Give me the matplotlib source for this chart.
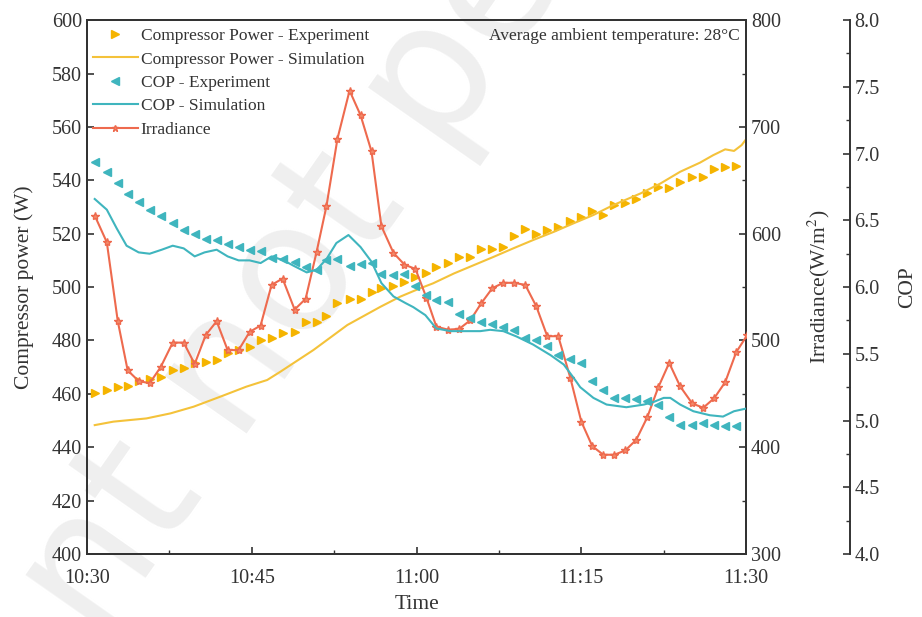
import matplotlib
matplotlib.use('Agg')
import matplotlib.pyplot as plt
from matplotlib.lines import Line2D

plt.rcParams['font.family'] = ['Liberation Serif', 'DejaVu Serif']
plt.rcParams['mathtext.fontset'] = 'stix'

# время в минутах от 10:30 (шаг измерений ~1 мин)
time_min = [0.7, 1.8, 2.8, 3.7, 4.7, 5.7, 6.7, 7.8, 8.8, 9.8,
            10.8, 11.8, 12.8, 13.8, 14.8, 15.8, 16.8, 17.8, 18.9, 19.9,
            20.9, 21.8, 22.8, 23.9, 24.9, 25.9, 26.8, 27.9, 28.9, 29.9,
            30.9, 31.8, 32.9, 33.9, 34.9, 35.9, 36.9, 37.9, 38.9, 39.9,
            40.9, 41.9, 42.9, 44.0, 45.0, 46.0, 47.0, 48.0, 49.0, 50.0,
            51.0, 52.0, 53.0, 54.0, 55.1, 56.1, 57.1, 58.1, 59.1]

# мощность компрессора - эксперимент (W)
power_exp = [460.2, 461.4, 462.7, 462.9, 464.9, 465.4, 466.4, 468.9, 469.6, 471.4,
             472.0, 472.7, 475.2, 476.4, 477.6, 480.1, 481.1, 482.8, 483.3, 487.0,
             487.0, 489.3, 494.1, 495.5, 495.5, 498.2, 499.5, 500.4, 502.0, 503.9,
             505.2, 507.4, 508.9, 511.1, 511.3, 514.2, 514.2, 515.1, 519.1, 521.6,
             520.0, 521.3, 522.4, 524.7, 526.3, 528.6, 527.0, 530.7, 531.6, 533.0,
             535.3, 537.5, 537.0, 539.4, 541.3, 541.2, 544.3, 544.9, 545.3]

# COP - эксперимент
cop_exp = [6.94, 6.86, 6.78, 6.70, 6.64, 6.58, 6.53, 6.48, 6.43, 6.40,
           6.36, 6.35, 6.32, 6.30, 6.28, 6.27, 6.22, 6.21, 6.19, 6.15,
           6.13, 6.20, 6.21, 6.16, 6.17, 6.18, 6.10, 6.09, 6.10, 6.01,
           5.94, 5.90, 5.89, 5.80, 5.77, 5.74, 5.72, 5.70, 5.68, 5.62,
           5.60, 5.56, 5.49, 5.46, 5.43, 5.30, 5.23, 5.17, 5.17, 5.16,
           5.15, 5.12, 5.03, 4.97, 4.97, 4.98, 4.97, 4.96, 4.96]

# солнечная радиация (W/m2), последняя точка за краем оси
irr_time = time_min + [60.1]
irradiance = [617, 592, 518, 472, 462, 460, 475, 498, 498, 478,
              505, 518, 491, 491, 508, 514, 552, 558, 529, 539,
              583, 626, 689, 734, 711, 677, 607, 582, 571, 567,
              540, 513, 510, 511, 519, 535, 549, 554, 554, 552,
              532, 504, 504, 465, 424, 401, 393, 393, 397, 407,
              428, 456, 479, 457, 441, 437, 446, 461, 489, 505]

# мощность компрессора - моделирование
power_sim_t = [0.7, 2.4, 5.4, 7.6, 9.7, 12.1, 14.5, 16.4, 17.6, 20.6,
               23.7, 26.7, 28.5, 30.3, 31.5, 33.4, 35.2, 37.0, 38.8, 40.6,
               42.5, 44.3, 46.1, 47.9, 50.4, 52.2, 54.0, 55.8, 57.0, 58.1,
               58.9, 59.6, 60.0]
power_sim = [448.3, 449.6, 450.8, 452.7, 455.2, 458.9, 462.7, 465.2, 468.3, 476.4,
             485.8, 492.6, 496.4, 499.5, 501.4, 505.1, 508.2, 511.3, 514.5, 517.6,
             520.7, 523.9, 527.0, 530.7, 535.1, 538.8, 543.2, 546.6, 549.4, 551.6,
             551.0, 553.2, 555.4]

# COP - моделирование
cop_sim_t = [0.7, 1.8, 2.7, 3.6, 4.7, 5.7, 6.8, 7.8, 8.8, 9.8,
             10.7, 11.8, 12.8, 13.8, 14.8, 15.8, 16.8, 17.9, 18.8, 20.0,
             20.9, 21.8, 22.7, 23.8, 24.9, 25.9, 26.8, 27.9, 29.0, 29.7,
             30.8, 31.8, 33.1, 34.6, 35.8, 36.7, 37.9, 39.1, 40.6, 42.2,
             43.4, 44.3, 44.9, 46.1, 47.3, 49.1, 50.7, 51.6, 52.5, 53.1,
             54.0, 55.2, 56.7, 57.9, 58.9, 60.0]
cop_sim = [6.66, 6.58, 6.44, 6.31, 6.26, 6.25, 6.28, 6.31, 6.29, 6.23,
           6.26, 6.28, 6.23, 6.20, 6.20, 6.18, 6.23, 6.20, 6.16, 6.11,
           6.13, 6.21, 6.33, 6.39, 6.30, 6.19, 6.03, 5.93, 5.88, 5.85,
           5.79, 5.69, 5.67, 5.67, 5.67, 5.68, 5.67, 5.63, 5.57, 5.49,
           5.42, 5.32, 5.25, 5.17, 5.12, 5.10, 5.12, 5.14, 5.17, 5.17,
           5.12, 5.07, 5.04, 5.03, 5.07, 5.09]

time_ticks = [0, 15, 30, 45, 60]
time_labels = ['10:30', '10:45', '11:00', '11:15', '11:30']

c_power = '#F5B400'
c_power_line = '#F4C23A'
c_cop = '#3FB5BE'
c_irr = '#EE6A4E'
c_axis = '#333333'

fig = plt.figure(figsize=(9.22, 6.17), dpi=100)
ax = fig.add_axes([0.0944, 0.102, 0.7148, 0.8654])
ax2 = ax.twinx()
ax3 = ax.twinx()
ax3.spines['right'].set_position(('axes', 1.157))

# водяной знак (под данными)
ax.text(0.318, 0.546, 'nt not pe', transform=fig.transFigure, rotation=55,
        fontsize=130, color='#efefef', ha='center', va='center',
        family='DejaVu Sans', zorder=0.5, clip_on=False)

ax.plot(time_min, power_exp, linestyle='none', marker='>', markersize=5.5,
        color=c_power, zorder=3)
ax.plot(power_sim_t, power_sim, color=c_power_line, linewidth=1.5, zorder=3)
ax2.plot(irr_time, irradiance, color=c_irr, linewidth=1.5, marker='*',
         markersize=6, markerfacecolor='#F28A6A', markeredgecolor=c_irr, zorder=3)
ax3.plot(time_min, cop_exp, linestyle='none', marker='<', markersize=5.5,
         color=c_cop, zorder=3)
ax3.plot(cop_sim_t, cop_sim, color=c_cop, linewidth=1.5, zorder=3)

ax.set_xlim(0, 60)
ax.set_ylim(400, 600)
ax2.set_ylim(300, 800)
ax3.set_ylim(4.0, 8.0)

ax.set_xticks(time_ticks)
ax.set_xticklabels(time_labels)
ax.set_xticks([7.5, 22.5, 37.5, 52.5], minor=True)
ax.set_yticks(range(400, 601, 20))
ax2.set_yticks(range(300, 801, 100))
ax2.set_yticks(range(350, 800, 100), minor=True)
ax3.set_yticks([4.0, 4.5, 5.0, 5.5, 6.0, 6.5, 7.0, 7.5, 8.0])
ax3.set_yticks([4.25, 4.75, 5.25, 5.75, 6.25, 6.75, 7.25, 7.75], minor=True)
ax3.set_yticklabels(['4.0', '4.5', '5.0', '5.5', '6.0', '6.5', '7.0', '7.5', '8.0'])

for a in (ax, ax2, ax3):
    a.tick_params(which='major', direction='in', length=5, width=1.2,
                  labelsize=14.5, colors=c_axis)
    a.tick_params(which='minor', direction='in', length=3, width=1.0, colors=c_axis)
    for s in a.spines.values():
        s.set_linewidth(1.4)
        s.set_color(c_axis)
ax.tick_params(axis='x', pad=11)

ax.set_xlabel('Time', fontsize=15.5, labelpad=5, color=c_axis)
ax.set_ylabel('Compressor power (W)', fontsize=15.5, labelpad=13, color=c_axis)
ax2.set_ylabel('Irradiance(W/m$^{2}$)', fontsize=15.5, labelpad=18, color=c_axis)
ax3.set_ylabel('COP', fontsize=15.5, labelpad=13, color=c_axis)

ax.text(0.99, 0.985, 'Average ambient temperature: 28\u00b0C', transform=ax.transAxes,
        ha='right', va='top', fontsize=12.5, color=c_axis, zorder=5)

handles = [
    Line2D([], [], linestyle='none', marker='>', markersize=5.5, color=c_power),
    Line2D([], [], color=c_power_line, linewidth=1.5),
    Line2D([], [], linestyle='none', marker='<', markersize=5.5, color=c_cop),
    Line2D([], [], color=c_cop, linewidth=1.5),
    Line2D([], [], color=c_irr, linewidth=1.5, marker='*', markersize=5,
           markerfacecolor='#F28A6A', markeredgecolor=c_irr),
]
labels = ['Compressor Power - Experiment', 'Compressor Power - Simulation',
          'COP - Experiment', 'COP - Simulation', 'Irradiance']
leg = ax3.legend(handles, labels, loc='upper left', frameon=False, fontsize=12.5,
                 handlelength=2.6, handletextpad=0.15, labelspacing=0.42,
                 borderpad=0.25, borderaxespad=0.2, bbox_to_anchor=(-0.003, 1.0))
for txt in leg.get_texts():
    txt.set_color(c_axis)

fig.savefig('out.png', dpi=100)
